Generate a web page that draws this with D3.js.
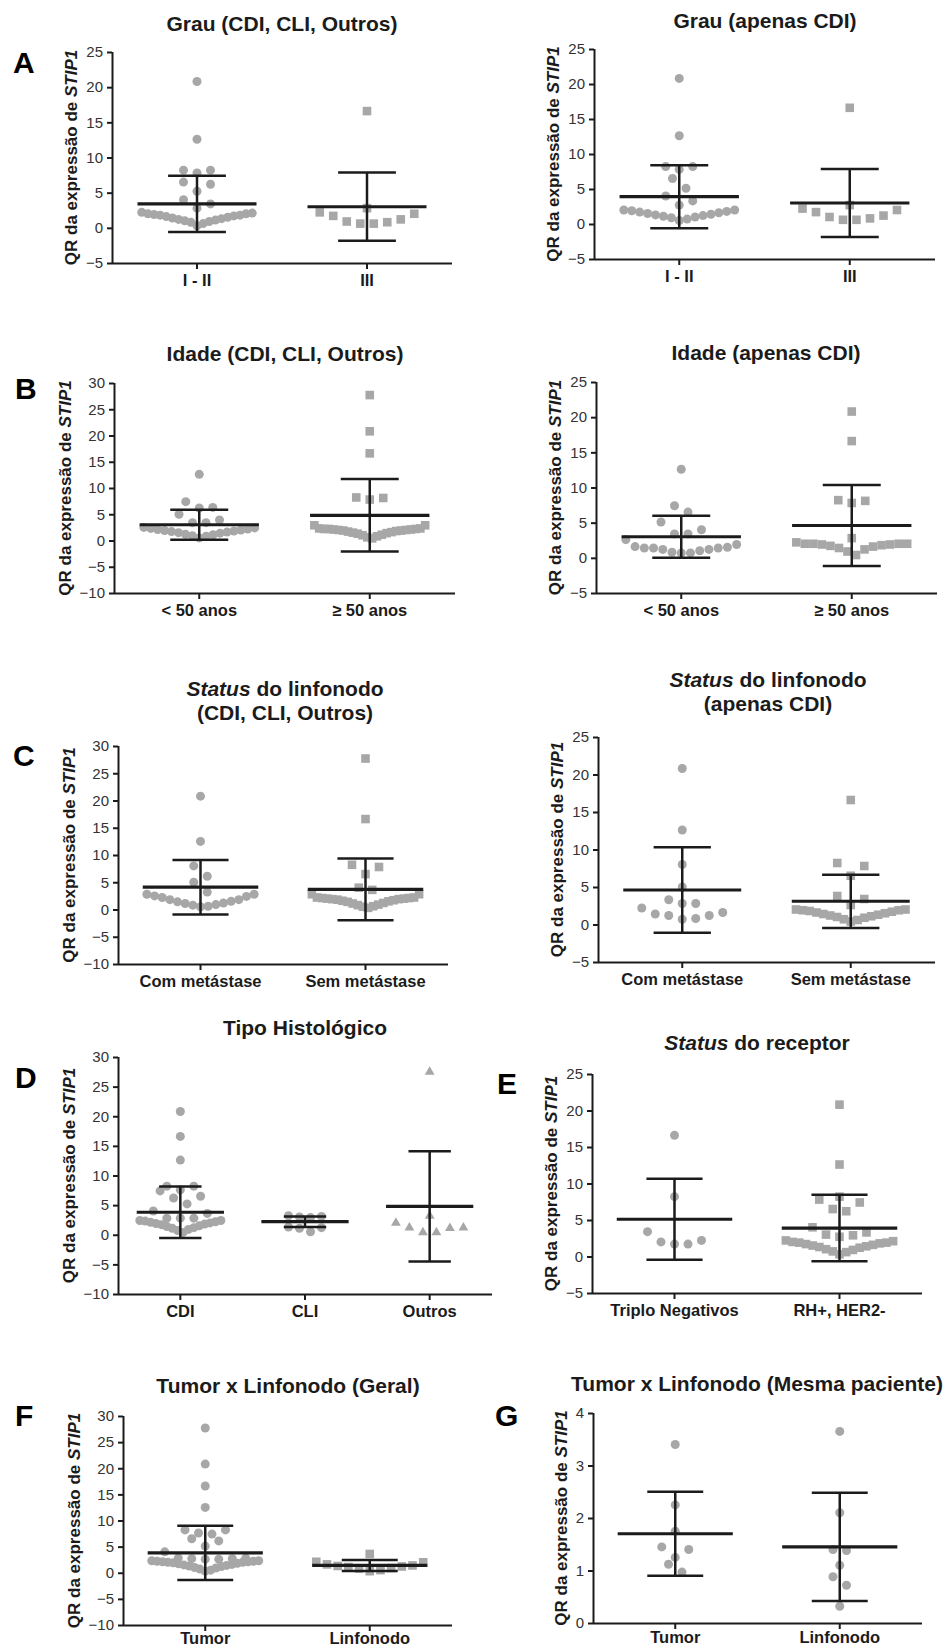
<!DOCTYPE html>
<html>
<head>
<meta charset="utf-8">
<script src="https://cdn.jsdelivr.net/npm/d3@7"></script>
<style>
  html, body { margin: 0; padding: 0; background: #fff; }
  svg { display: block; }
</style>
</head>
<body>
<svg id="fig" width="949" height="1649"></svg>
<script>
// ---------------- DATA ----------------
// A (left) Grau (CDI, CLI, Outros)
const grauTodos_cats = ["I - II", "III"];
const grauTodos_g1 = [20.8, 12.6, 8.2, 7.8, 8.2, 6.5, 6.2, 5.2, 4.0, 3.4, 2.8,
  2.0, 1.9, 1.8, 1.7, 1.5, 1.3, 1.1, 0.9, 0.6, 0.3, 0.8, 1.0, 1.2, 1.4, 1.6, 1.8, 2.0, 2.1, 2.2];
const grauTodos_g2 = [16.6, 2.8, 2.0, 1.2, 0.8, 0.6, 0.6, 0.9, 1.7, 2.2];
const grauTodos_mean = [3.4, 3.0];
const grauTodos_sd = [4.0, 4.85];
const grauTodos_ticks = [-5, 0, 5, 10, 15, 20, 25];

// A (right) Grau (apenas CDI)
const grauCDI_cats = ["I - II", "III"];
const grauCDI_g1 = [20.8, 12.6, 8.2, 8.2, 7.8, 6.5, 5.1, 4.0, 3.3, 2.7,
  2.0, 1.9, 1.8, 1.6, 1.4, 1.2, 1.0, 0.7, 0.5, 0.9, 1.1, 1.3, 1.5, 1.7, 2.0];
const grauCDI_g2 = [16.6, 2.7, 2.0, 1.2, 0.8, 0.6, 0.6, 1.0, 1.7, 2.2];
const grauCDI_mean = [3.9, 3.0];
const grauCDI_sd = [4.5, 4.85];
const grauCDI_ticks = [-5, 0, 5, 10, 15, 20, 25];

// B (left) Idade (CDI, CLI, Outros)
const idadeTodos_cats = ["< 50 anos", "\u2265 50 anos"];
const idadeTodos_g1 = [12.6, 7.4, 6.3, 6.2, 5.0, 3.9, 3.4, 3.4,
  2.4, 2.3, 2.1, 1.9, 1.7, 1.5, 1.2, 0.9, 0.5, 0.8, 1.1, 1.4, 1.6, 1.8, 2.0, 2.2, 2.5];
const idadeTodos_g2 = [27.7, 20.8, 16.6, 8.2, 8.1, 7.8, 2.9, 2.9,
  2.3, 2.2, 2.2, 2.1, 2.0, 1.9, 1.8, 1.6, 1.4, 1.1, 0.8, 0.4, 0.6, 1.0, 1.3, 1.5, 1.7, 1.9, 2.0, 2.1, 2.2, 2.3];
const idadeTodos_mean = [3.0, 4.8];
const idadeTodos_sd = [2.85, 6.9];
const idadeTodos_ticks = [-10, -5, 0, 5, 10, 15, 20, 25, 30];

// B (right) Idade (apenas CDI)
const idadeCDI_cats = ["< 50 anos", "\u2265 50 anos"];
const idadeCDI_g1 = [12.6, 7.4, 6.5, 5.1, 4.0, 3.4, 3.4, 2.6,
  1.6, 1.5, 1.4, 1.2, 0.8, 0.7, 0.7, 1.0, 1.2, 1.4, 1.4, 1.9];
const idadeCDI_g2 = [20.8, 16.6, 8.2, 8.1, 7.8, 2.8, 2.2,
  2.0, 2.0, 1.9, 1.8, 1.6, 1.2, 0.4, 0.9, 1.4, 1.7, 1.9, 2.0, 2.0];
const idadeCDI_mean = [3.0, 4.6];
const idadeCDI_sd = [3.0, 5.75];
const idadeCDI_ticks = [-5, 0, 5, 10, 15, 20, 25];

// C (left) Status do linfonodo (CDI, CLI, Outros)
const linfTodos_cats = ["Com met\u00e1stase", "Sem met\u00e1stase"];
const linfTodos_g1 = [20.8, 12.5, 8.0, 6.1, 5.0, 3.2,
  2.8, 2.5, 2.4, 1.8, 1.4, 1.1, 0.8, 0.5, 0.6, 0.9, 1.2, 1.5, 1.8, 2.2, 2.8];
const linfTodos_g2 = [27.7, 16.6, 8.2, 7.8, 6.5, 4.0, 3.6, 2.8, 2.8,
  2.2, 2.1, 2.0, 1.9, 1.8, 1.6, 1.4, 1.1, 0.8, 0.5, 0.3, 0.6, 0.9, 1.2, 1.5, 1.7, 1.9, 2.0, 2.1, 2.2];
const linfTodos_mean = [4.1, 3.7];
const linfTodos_sd = [5.0, 5.65];
const linfTodos_ticks = [-10, -5, 0, 5, 10, 15, 20, 25, 30];

// C (right) Status do linfonodo (apenas CDI)
const linfCDI_cats = ["Com met\u00e1stase", "Sem met\u00e1stase"];
const linfCDI_g1 = [20.8, 12.6, 8.0, 5.0, 3.3, 2.8, 2.8, 2.2, 1.6, 1.4, 1.2, 1.2, 0.8, 0.7];
const linfCDI_g2 = [16.6, 8.2, 7.8, 6.5, 3.8, 3.4, 2.6,
  2.0, 1.9, 1.8, 1.6, 1.4, 1.2, 1.0, 0.7, 0.4, 0.6, 0.9, 1.1, 1.3, 1.5, 1.7, 1.9, 2.0];
const linfCDI_mean = [4.6, 3.1];
const linfCDI_sd = [5.7, 3.55];
const linfCDI_ticks = [-5, 0, 5, 10, 15, 20, 25];

// D Tipo Histológico
const histo_cats = ["CDI", "CLI", "Outros"];
const histo_g1 = [20.8, 16.6, 12.6, 8.2, 8.2, 7.6, 7.4, 6.5, 6.2, 5.2, 4.0, 3.6, 2.8, 2.8, 2.8,
  2.4, 2.3, 2.1, 1.9, 1.7, 1.4, 1.1, 0.7, 0.4, 0.9, 1.2, 1.5, 1.8, 2.0, 2.2, 2.4];
const histo_g2 = [3.2, 3.1, 3.0, 2.9, 1.3, 1.2, 1.1, 0.5];
const histo_g3 = [27.5, 3.2, 2.0, 1.2, 1.2, 1.1, 0.4, 0.4];
const histo_mean = [3.8, 2.2, 4.8];
const histo_sd = [4.35, 0.9, 9.3];
const histo_ticks = [-10, -5, 0, 5, 10, 15, 20, 25, 30];

// E Status do receptor
const recep_cats = ["Triplo Negativos", "RH+, HER2-"];
const recep_g1 = [16.6, 8.2, 3.4, 2.2, 2.0, 1.7, 1.7];
const recep_g2 = [20.8, 12.6, 8.2, 7.8, 7.4, 6.5, 6.2, 4.0, 3.3, 3.0, 2.9, 2.7, 2.2,
  2.0, 1.9, 1.8, 1.6, 1.4, 1.2, 0.9, 0.6, 0.3, 0.7, 1.0, 1.3, 1.5, 1.7, 1.9, 2.1];
const recep_mean = [5.1, 3.9];
const recep_sd = [5.55, 4.55];
const recep_ticks = [-5, 0, 5, 10, 15, 20, 25];

// F Tumor x Linfonodo (Geral)
const geral_cats = ["Tumor", "Linfonodo"];
const geral_g1 = [27.7, 20.8, 16.6, 12.5, 8.2, 8.2, 7.6, 7.4, 6.5, 6.1, 5.1, 4.0,
  2.8, 2.8, 2.7, 2.7, 2.6, 2.6,
  2.3, 2.2, 2.1, 2.0, 1.9, 1.7, 1.5, 1.3, 1.0, 0.7, 0.3, 0.5, 0.9, 1.2, 1.4, 1.6, 1.8, 2.0, 2.1, 2.2, 2.3];
const geral_g2 = [3.6, 2.1, 2.0, 1.6, 1.4, 1.3, 1.2, 1.1, 0.9, 0.8, 0.5, 0.3];
const geral_mean = [3.8, 1.4];
const geral_sd = [5.2, 1.05];
const geral_ticks = [-10, -5, 0, 5, 10, 15, 20, 25, 30];

// G Tumor x Linfonodo (Mesma paciente)
const mesma_cats = ["Tumor", "Linfonodo"];
const mesma_g1 = [3.4, 2.25, 1.75, 1.45, 1.4, 1.25, 1.12, 0.97];
const mesma_g2 = [3.65, 2.1, 1.4, 1.38, 1.1, 0.88, 0.72, 0.32];
const mesma_mean = [1.7, 1.45];
const mesma_sd = [0.8, 1.03];
const mesma_ticks = [0, 1, 2, 3, 4];

// ---------------- LAYOUT ----------------
const FONT = "'Liberation Sans', Arial, Helvetica, sans-serif";
const POINT = "#a7a7a7";
const INK = "#1b1b1b";

const panels = [
  { letter: "A", lx: 13, ly: 73, title: [[["Grau (CDI, CLI, Outros)", false]]], tx: 282, ty: 30.5,
    x0: 112, x1: 452, yTop: 52, yBot: 263, ticks: grauTodos_ticks, cats: grauTodos_cats,
    groups: [[grauTodos_g1, "circle"], [grauTodos_g2, "square"]], mean: grauTodos_mean, sd: grauTodos_sd },
  { letter: null, title: [[["Grau (apenas CDI)", false]]], tx: 765, ty: 27.5,
    x0: 594, x1: 935, yTop: 49, yBot: 259, ticks: grauCDI_ticks, cats: grauCDI_cats,
    groups: [[grauCDI_g1, "circle"], [grauCDI_g2, "square"]], mean: grauCDI_mean, sd: grauCDI_sd },
  { letter: "B", lx: 15, ly: 399, title: [[["Idade (CDI, CLI, Outros)", false]]], tx: 285, ty: 360.5,
    x0: 114, x1: 455, yTop: 383, yBot: 593, ticks: idadeTodos_ticks, cats: idadeTodos_cats,
    groups: [[idadeTodos_g1, "circle"], [idadeTodos_g2, "square"]], mean: idadeTodos_mean, sd: idadeTodos_sd },
  { letter: null, title: [[["Idade (apenas CDI)", false]]], tx: 766, ty: 359.5,
    x0: 596, x1: 937, yTop: 382, yBot: 593, ticks: idadeCDI_ticks, cats: idadeCDI_cats,
    groups: [[idadeCDI_g1, "circle"], [idadeCDI_g2, "square"]], mean: idadeCDI_mean, sd: idadeCDI_sd },
  { letter: "C", lx: 13, ly: 766, title: [[["Status", true], [" do linfonodo", false]], [["(CDI, CLI, Outros)", false]]], tx: 285, ty: 695.5,
    x0: 118, x1: 448, yTop: 746, yBot: 964, ticks: linfTodos_ticks, cats: linfTodos_cats,
    groups: [[linfTodos_g1, "circle"], [linfTodos_g2, "square"]], mean: linfTodos_mean, sd: linfTodos_sd },
  { letter: null, title: [[["Status", true], [" do linfonodo", false]], [["(apenas CDI)", false]]], tx: 768, ty: 686.5,
    x0: 598, x1: 935, yTop: 737, yBot: 962, ticks: linfCDI_ticks, cats: linfCDI_cats,
    groups: [[linfCDI_g1, "circle"], [linfCDI_g2, "square"]], mean: linfCDI_mean, sd: linfCDI_sd },
  { letter: "D", lx: 15, ly: 1088, title: [[["Tipo Histol\u00f3gico", false]]], tx: 305, ty: 1034.5,
    x0: 118, x1: 492, yTop: 1057, yBot: 1294, ticks: histo_ticks, cats: histo_cats,
    groups: [[histo_g1, "circle"], [histo_g2, "circle"], [histo_g3, "triangle"]], mean: histo_mean, sd: histo_sd },
  { letter: "E", lx: 497, ly: 1094, title: [[["Status", true], [" do receptor", false]]], tx: 757, ty: 1049.5,
    x0: 592, x1: 922, yTop: 1074, yBot: 1293, ticks: recep_ticks, cats: recep_cats,
    groups: [[recep_g1, "circle"], [recep_g2, "square"]], mean: recep_mean, sd: recep_sd },
  { letter: "F", lx: 15, ly: 1426, title: [[["Tumor x Linfonodo (Geral)", false]]], tx: 288, ty: 1392.5,
    x0: 123, x1: 452, yTop: 1416, yBot: 1625, ticks: geral_ticks, cats: geral_cats, rowT: 11, catPad: 1.5,
    groups: [[geral_g1, "circle"], [geral_g2, "square"]], mean: geral_mean, sd: geral_sd },
  { letter: "G", lx: 495, ly: 1426, title: [[["Tumor x Linfonodo (Mesma paciente)", false]]], tx: 757, ty: 1390.5,
    x0: 593, x1: 922, yTop: 1413, yBot: 1623, ticks: mesma_ticks, cats: mesma_cats, catPad: 2.5,
    groups: [[mesma_g1, "circle"], [mesma_g2, "circle"]], mean: mesma_mean, sd: mesma_sd }
];

const svg = d3.select("#fig");
svg.append("rect").attr("width", 949).attr("height", 1649).attr("fill", "#fff");

// Prism-like scatter layout: rows of nearby values, lowest in the centre, spreading outwards
function rowLayout(values, y, T, maxW, base) {
  const pts = values.map(v => ({ v })).sort((a, b) => a.v - b.v);
  const rows = [];
  let cur = null;
  pts.forEach(p => {
    if (!cur || Math.abs(y(cur.start) - y(p.v)) > T) { cur = { start: p.v, pts: [] }; rows.push(cur); }
    cur.pts.push(p);
  });
  rows.forEach(r => {
    const n = r.pts.length;
    const sp = n > 1 ? Math.min(base, maxW / (n - 1)) : 0;
    r.pts.forEach((p, k) => {
      let slot;
      if (n % 2 === 1) { slot = k === 0 ? 0 : Math.ceil(k / 2) * (k % 2 === 1 ? 1 : -1); }
      else { slot = (Math.floor(k / 2) + 0.5) * (k % 2 === 0 ? 1 : -1); }
      p.dx = slot * sp;
    });
  });
  return pts;
}

const shapes = {
  circle: d3.symbol().type(d3.symbolCircle).size(Math.PI * 4.5 * 4.5),
  square: d3.symbol().type(d3.symbolSquare).size(8.6 * 8.6),
  triangle: d3.symbol().type(d3.symbolTriangle).size(42)
};

panels.forEach(P => {
  const dom = d3.extent(P.ticks);
  const y = d3.scaleLinear().domain(dom).range([P.yBot, P.yTop]);
  const x = d3.scaleBand().domain(P.cats).range([P.x0, P.x1]).padding(0);
  const step = x.step();
  const g = svg.append("g");

  // points
  P.groups.forEach(([vals, shape], gi) => {
    const cx = x(P.cats[gi]) + step / 2;
    const pts = rowLayout(vals, y, P.rowT || 14, step * 0.65, gi === 1 && P.cats.length === 3 ? 11 : 13.5);
    g.append("g").selectAll("path").data(pts).join("path")
      .attr("d", shapes[shape])
      .attr("transform", d => `translate(${cx + d.dx},${y(d.v)})`)
      .attr("fill", POINT);
  });

  // mean and SD bars
  P.cats.forEach((c, i) => {
    const cx = x(c) + step / 2;
    const m = P.mean[i], s = P.sd[i];
    const eg = g.append("g").attr("stroke", INK).attr("fill", "none");
    eg.append("line").attr("x1", cx).attr("x2", cx).attr("y1", y(m - s)).attr("y2", y(m + s)).attr("stroke-width", 2.5);
    [m - s, m + s].forEach(v => eg.append("line")
      .attr("x1", cx - step * 0.17).attr("x2", cx + step * 0.17)
      .attr("y1", y(v)).attr("y2", y(v)).attr("stroke-width", 2.5));
    eg.append("line").attr("x1", cx - step * 0.35).attr("x2", cx + step * 0.35)
      .attr("y1", y(m)).attr("y2", y(m)).attr("stroke-width", 3.2);
  });

  // axes
  const ya = g.append("g").attr("transform", `translate(${P.x0},0)`)
    .call(d3.axisLeft(y).tickValues(P.ticks).tickSize(5).tickSizeOuter(0).tickPadding(4).tickFormat(d3.format("d")));
  const xa = g.append("g").attr("transform", `translate(0,${P.yBot})`)
    .call(d3.axisBottom(x).tickSize(6).tickSizeOuter(0).tickPadding(P.catPad != null ? P.catPad : 5));
  [ya, xa].forEach(a => {
    a.select(".domain").attr("stroke", INK).attr("stroke-width", 2);
    a.selectAll(".tick line").attr("stroke", INK).attr("stroke-width", 2);
  });
  ya.selectAll(".domain").attr("d", `M0.5,${P.yBot + 1}V${P.yTop}`);
  xa.selectAll(".domain").attr("d", `M${P.x0},0.5H${P.x1}`);
  ya.selectAll("text").attr("font-family", FONT).attr("font-size", 15).attr("fill", "#333");
  xa.selectAll("text").attr("font-family", FONT).attr("font-size", 16.5).attr("font-weight", "bold").attr("fill", INK);

  // y label
  let maxW = 0;
  ya.selectAll("text").each(function () { maxW = Math.max(maxW, this.getBBox().width); });
  const lxp = P.x0 - (9 + maxW + 15);
  const lyp = (P.yTop + P.yBot) / 2;
  const yl = g.append("text")
    .attr("transform", `translate(${lxp},${lyp}) rotate(-90)`)
    .attr("text-anchor", "middle").attr("dy", "0.35em")
    .attr("font-family", FONT).attr("font-size", 17).attr("font-weight", "bold").attr("fill", INK);
  yl.append("tspan").text("QR da express\u00e3o de ");
  yl.append("tspan").attr("font-style", "italic").text("STIP1");

  // title
  const tt = g.append("text").attr("text-anchor", "middle")
    .attr("font-family", FONT).attr("font-size", 21).attr("font-weight", "bold").attr("fill", INK);
  P.title.forEach((line, li) => {
    line.forEach(([txt, it], si) => {
      const ts = tt.append("tspan").text(txt).attr("font-style", it ? "italic" : "normal");
      if (si === 0) ts.attr("x", P.tx).attr("y", P.ty + li * 24.5);
    });
  });

  // panel letter
  if (P.letter) {
    g.append("text").attr("x", P.lx).attr("y", P.ly)
      .attr("font-family", FONT).attr("font-size", 30).attr("font-weight", "bold").attr("fill", "#000")
      .text(P.letter);
  }
});
</script>
</body>
</html>
